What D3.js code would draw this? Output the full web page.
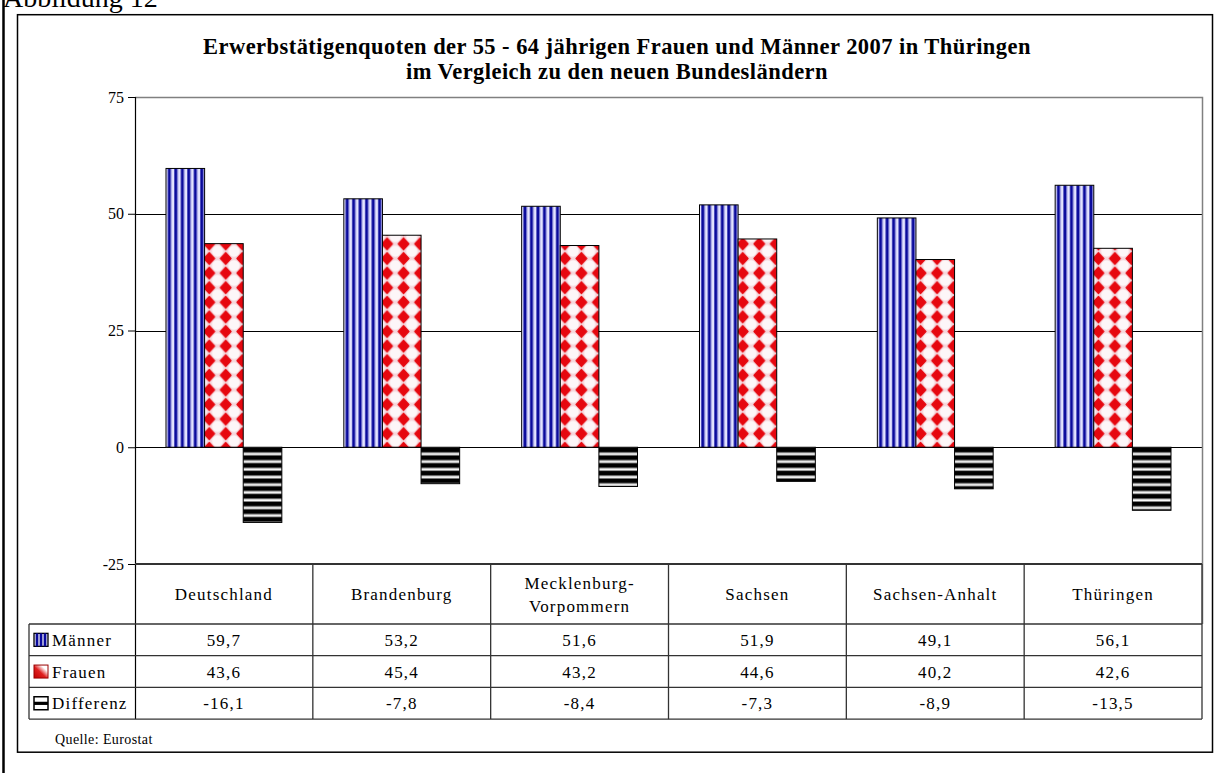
<!DOCTYPE html>
<html>
<head>
<meta charset="utf-8">
<script src="https://cdn.jsdelivr.net/npm/d3@7"></script>
<style>
  body { margin:0; background:#fff; }
  svg { display:block; font-family:"Liberation Serif","Times New Roman",serif; }
</style>
</head>
<body>
<div id="chart"></div>
<script>
var categories = ["Deutschland","Brandenburg","Mecklenburg-Vorpommern","Sachsen","Sachsen-Anhalt","Thüringen"];
var categoryLabels = [["Deutschland"],["Brandenburg"],["Mecklenburg-","Vorpommern"],["Sachsen"],["Sachsen-Anhalt"],["Thüringen"]];
var seriesNames = ["Männer","Frauen","Differenz"];
var maenner = [59.7, 53.2, 51.6, 51.9, 49.1, 56.1];
var frauen = [43.6, 45.4, 43.2, 44.6, 40.2, 42.6];
var differenz = [-16.1, -7.8, -8.4, -7.3, -8.9, -13.5];
var yTicks = [-25, 0, 25, 50, 75];

var W = 1217, H = 773;
var plot = {left:135, right:1202, top:97, bottom:564};
var rowH = 31.7, headerBottom = 624, legendLeft = 29;

var svg = d3.select("#chart").append("svg")
  .attr("width", W).attr("height", H);

var defs = svg.append("defs");

// vertical blue stripes
var pm = defs.append("pattern").attr("id","pMaenner")
  .attr("patternUnits","userSpaceOnUse").attr("width",6.5).attr("height",10);
pm.append("rect").attr("width",6.5).attr("height",10).attr("fill","#e4e4ff");
pm.append("rect").attr("x",0.3).attr("width",3.1).attr("height",10).attr("fill","#0a0a9c");
pm.append("rect").attr("x",3.4).attr("width",0.8).attr("height",10).attr("fill","#9a9ae0");

// red diamonds
var pf = defs.append("pattern").attr("id","pFrauen")
  .attr("patternUnits","userSpaceOnUse").attr("width",16.5).attr("height",14.6)
  .attr("x",0).attr("y",3);
pf.append("rect").attr("width",16.5).attr("height",14.6).attr("fill","#f6d6dc");
[[0,0],[16.5,0],[0,14.6],[16.5,14.6]].forEach(function(c){
  pf.append("circle").attr("cx",c[0]).attr("cy",c[1]).attr("r",5.6).attr("fill","#fdf6f8");
});
pf.append("path").attr("d","M8.25,1.4 L13.6,7.3 L8.25,13.2 L2.9,7.3 Z")
  .attr("fill","#e6070f").attr("stroke","#e6070f").attr("stroke-width",1.2).attr("stroke-linejoin","round");

// horizontal black stripes
var pd = defs.append("pattern").attr("id","pDiff")
  .attr("patternUnits","userSpaceOnUse").attr("width",10).attr("height",7.7).attr("y",448);
pd.append("rect").attr("width",10).attr("height",7.7).attr("fill","#000");
pd.append("rect").attr("y",4.2).attr("width",10).attr("height",0.8).attr("fill","#999");
pd.append("rect").attr("y",5).attr("width",10).attr("height",2).attr("fill","#fff");
pd.append("rect").attr("y",7).attr("width",10).attr("height",0.7).attr("fill","#aaa");

// legend icon gradient for Frauen
var gf = defs.append("linearGradient").attr("id","gFrauen")
  .attr("x1","0").attr("y1","1").attr("x2","1").attr("y2","0");
gf.append("stop").attr("offset","0").attr("stop-color","#c00000");
gf.append("stop").attr("offset","0.45").attr("stop-color","#e02020");
gf.append("stop").attr("offset","0.75").attr("stop-color","#ffffff");
gf.append("stop").attr("offset","1").attr("stop-color","#ffffff");

var fills = {"Männer":"url(#pMaenner)","Frauen":"url(#pFrauen)","Differenz":"url(#pDiff)"};
var values = {"Männer":maenner,"Frauen":frauen,"Differenz":differenz};

// page border and header text (cut off at the top, as in the original)
svg.append("line").attr("x1",3.5).attr("x2",3.5).attr("y1",0).attr("y2",H)
  .attr("stroke","#000").attr("stroke-width",2.5);
svg.append("text").attr("x",3).attr("y",7).attr("font-size",28).text("Abbildung 12");

// chart frame
svg.append("rect").attr("x",17.5).attr("y",14.7).attr("width",1195).attr("height",737.5)
  .attr("fill","none").attr("stroke","#000").attr("stroke-width",1.5);

// title
var title = svg.append("text").attr("text-anchor","middle").attr("font-weight","bold")
  .attr("font-size",22.5).attr("letter-spacing","0.45px");
title.append("tspan").attr("x",617).attr("y",54).text("Erwerbstätigenquoten der 55 - 64 jährigen Frauen und Männer 2007 in Thüringen");
title.append("tspan").attr("x",617).attr("y",79).text("im Vergleich zu den neuen Bundesländern");

var y = d3.scaleLinear().domain([-25,75]).range([plot.bottom, plot.top]);
var x0 = d3.scaleBand().domain(categories).range([plot.left, plot.right]);
var x1 = d3.scaleBand().domain(seriesNames).range([31, x0.bandwidth()-31]);

var fmt = function(v){ return d3.format(".1f")(v).replace(".",",").replace("\u2212","-"); };

// grid lines
svg.append("g").selectAll("line").data([0,25,50]).enter().append("line")
  .attr("x1",plot.left).attr("x2",plot.right)
  .attr("y1",function(d){return Math.round(y(d))+0.5;})
  .attr("y2",function(d){return Math.round(y(d))+0.5;})
  .attr("stroke","#000").attr("stroke-width",1);

// plot border top/right
svg.append("path")
  .attr("d","M"+plot.left+","+(plot.top+0.5)+"H"+(plot.right+0.5)+"V"+headerBottom)
  .attr("fill","none").attr("stroke","#808080").attr("stroke-width",1.5);

// bars
var groups = svg.append("g").selectAll("g").data(categories).enter().append("g")
  .attr("transform",function(d){return "translate("+x0(d)+",0)";});
groups.selectAll("rect").data(function(d,i){
    return seriesNames.map(function(s){return {s:s, v:values[s][i]};});
  }).enter().append("rect")
  .attr("x",function(d){return x1(d.s);})
  .attr("width",x1.bandwidth())
  .attr("y",function(d){return y(Math.max(0,d.v));})
  .attr("height",function(d){return Math.abs(y(d.v)-y(0));})
  .attr("fill",function(d){return fills[d.s];})
  .attr("stroke","#000").attr("stroke-width",1);

// y axis
var yAxis = d3.axisLeft(y).tickValues(yTicks).tickSize(7).tickPadding(4)
  .tickFormat(function(d){return String(d);});
var ya = svg.append("g").attr("transform","translate("+plot.left+",0)").call(yAxis);
ya.select(".domain").remove();
ya.selectAll("line").attr("stroke","#000");
ya.selectAll("text").attr("font-family","Liberation Serif").attr("font-size",16).attr("fill","#000");
svg.append("line").attr("x1",plot.left+0.5).attr("x2",plot.left+0.5)
  .attr("y1",plot.top).attr("y2",headerBottom+3*rowH)
  .attr("stroke","#000").attr("stroke-width",1.2);

// data table
var tbl = svg.append("g").attr("stroke","#333").attr("stroke-width",1.3);
tbl.append("line").attr("x1",plot.left).attr("x2",plot.right).attr("y1",plot.bottom).attr("y2",plot.bottom).attr("stroke-width",2);
d3.range(4).forEach(function(r){
  var yy = headerBottom + r*rowH;
  tbl.append("line").attr("x1",legendLeft).attr("x2",plot.right).attr("y1",yy).attr("y2",yy);
});
tbl.append("line").attr("x1",legendLeft).attr("x2",legendLeft).attr("y1",headerBottom).attr("y2",headerBottom+3*rowH);
categories.forEach(function(c){
  tbl.append("line").attr("x1",x0(c)+x0.bandwidth()).attr("x2",x0(c)+x0.bandwidth())
    .attr("y1",plot.bottom).attr("y2",headerBottom+3*rowH);
});

var txt = svg.append("g").attr("font-size",17).attr("letter-spacing","1.2px").attr("fill","#000");
categories.forEach(function(c,i){
  var lines = categoryLabels[i];
  var cy = (plot.bottom+headerBottom)/2;
  lines.forEach(function(l,j){
    txt.append("text").attr("text-anchor","middle")
      .attr("x",x0(c)+x0.bandwidth()/2)
      .attr("y",cy + 6 + (j-(lines.length-1)/2)*23)
      .text(l);
  });
});
seriesNames.forEach(function(s,r){
  var yy = headerBottom + r*rowH + rowH/2 + 6;
  txt.append("text").attr("x",52).attr("y",yy).text(s);
  values[s].forEach(function(v,i){
    txt.append("text").attr("text-anchor","middle")
      .attr("x",x0(categories[i])+x0.bandwidth()/2).attr("y",yy)
      .text(fmt(v));
  });
  var iy = headerBottom + r*rowH + rowH/2 - 6.5;
  var icon = svg.append("g").attr("transform","translate(34,"+iy+")");
  if (s==="Frauen") {
    icon.append("rect").attr("width",14).attr("height",13).attr("fill","url(#gFrauen)")
      .attr("stroke","#900").attr("stroke-width",1);
  } else if (s==="Männer") {
    icon.append("rect").attr("width",14).attr("height",13).attr("fill","#dde").attr("stroke","#000").attr("stroke-width",1.3);
    [3,7,11].forEach(function(xx){
      icon.append("rect").attr("x",xx-1.3).attr("y",0).attr("width",2.6).attr("height",13).attr("fill","#0a0a9c");
    });
  } else {
    icon.append("rect").attr("width",14).attr("height",13).attr("fill","#fff").attr("stroke","#000").attr("stroke-width",1.5);
    icon.append("rect").attr("x",0).attr("y",5).attr("width",14).attr("height",3.2).attr("fill","#000");
  }
});

svg.append("text").attr("x",55).attr("y",744).attr("font-size",14)
  .attr("letter-spacing","0.4px").text("Quelle: Eurostat");
</script>
</body>
</html>
